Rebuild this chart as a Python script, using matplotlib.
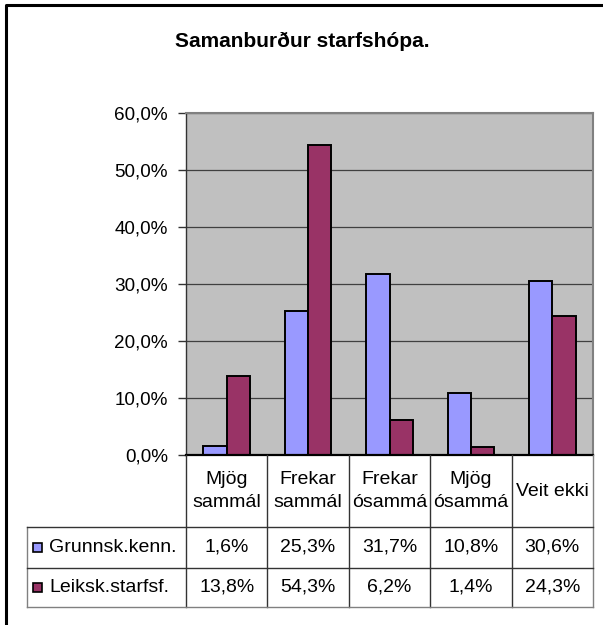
import numpy as np
import matplotlib
matplotlib.use("Agg")
import matplotlib.pyplot as plt
from matplotlib.patches import Rectangle
from matplotlib.lines import Line2D

plt.rcParams['font.family'] = ['Liberation Sans', 'DejaVu Sans']

# data
categories = ['Mjög\nsammál', 'Frekar\nsammál', 'Frekar\nósammá', 'Mjög\nósammá', 'Veit ekki']
series_names = ['Grunnsk.kenn.', 'Leiksk.starfsf.']
grunnsk = [1.6, 25.3, 31.7, 10.8, 30.6]
leiksk = [13.8, 54.3, 6.2, 1.4, 24.3]
yticks = [0, 10, 20, 30, 40, 50, 60]
colors = ['#9999FF', '#993366']

W, H = 603, 625
fs = 14
fig = plt.figure(figsize=(W / 100, H / 100), dpi=100)


def px_axes(left, top, right, bottom):
    return fig.add_axes([left / W, 1 - bottom / H, (right - left) / W, (bottom - top) / H])


def pct(v):
    return f'{v:.1f}%'.replace('.', ',')


# outer frame, only top and left are visible (picture is cropped)
fig.lines.append(Line2D([6 / W, 6 / W, 1.0], [0.0, 1 - 5 / H, 1 - 5 / H],
                        transform=fig.transFigure, color='black', lw=2.2))

fig.text(302 / W, 1 - 41 / H, 'Samanburður starfshópa.', ha='center', va='center',
         fontsize=15, fontweight='bold')

# chart
ax = px_axes(186, 113, 593, 455)
x = np.arange(len(categories))
w = 1 / 3.5
ax.bar(x - w / 2, grunnsk, w, color=colors[0], edgecolor='black', linewidth=1.4, zorder=3)
ax.bar(x + w / 2, leiksk, w, color=colors[1], edgecolor='black', linewidth=1.4, zorder=3)
ax.set_xlim(-0.5, len(categories) - 0.5)
ax.set_ylim(0, 60)
ax.set_facecolor('#C0C0C0')
ax.set_yticks(yticks)
ax.set_yticklabels([pct(v) for v in yticks], fontsize=13.6)
ax.set_xticks([])
ax.yaxis.grid(True, color='#404040', lw=0.9)
ax.set_axisbelow(True)
ax.tick_params(axis='y', length=6, width=1, pad=7, color='#333333')
for s in ['top', 'right']:
    ax.spines[s].set_color('#808080')
    ax.spines[s].set_linewidth(1.5)
ax.spines['left'].set_color('#333333')
ax.spines['left'].set_linewidth(1)
ax.spines['bottom'].set_color('black')
ax.spines['bottom'].set_linewidth(1.6)
ax.spines['bottom'].set_zorder(5)

# data table below the chart
ta = px_axes(27, 455, 593, 607)
col_w = 81.4
lbl_w = 159 / col_w
x0 = -0.5 - lbl_w
x1 = len(categories) - 0.5
ta.set_xlim(x0, x1)
ta.set_ylim(152, 0)
ta.axis('off')
rows = [0, 72, 113, 152]
line_kw = dict(color='#333333', lw=1, clip_on=False)
edge_kw = dict(line_kw, color='#808080')
for i in range(len(categories)):
    ta.plot([i - 0.5, i - 0.5], [rows[0], rows[-1]], **line_kw)
ta.plot([x1, x1], [rows[0], rows[-1]], **edge_kw)
ta.plot([x0, x0], [rows[1], rows[-1]], **edge_kw)
ta.plot([x0, x1], [rows[1], rows[1]], **line_kw)
ta.plot([x0, x1], [rows[2], rows[2]], **line_kw)
ta.plot([x0, x1], [rows[3], rows[3]], **edge_kw)

for i, c in enumerate(categories):
    ta.text(i, (rows[0] + rows[1]) / 2, c, ha='center', va='center', fontsize=fs,
            linespacing=1.45)

for r, (name, vals) in enumerate(zip(series_names, [grunnsk, leiksk])):
    yc = (rows[r + 1] + rows[r + 2]) / 2
    ta.add_patch(Rectangle((x0 + 6 / col_w, yc - 4.5), 9 / col_w, 9, fc=colors[r],
                           ec='black', lw=1.2, clip_on=False))
    ta.text(x0 + 22 / col_w, yc, name, ha='left', va='center', fontsize=fs)
    for i, v in enumerate(vals):
        ta.text(i, yc, pct(v), ha='center', va='center', fontsize=fs)

fig.savefig('out.png', dpi=100)
